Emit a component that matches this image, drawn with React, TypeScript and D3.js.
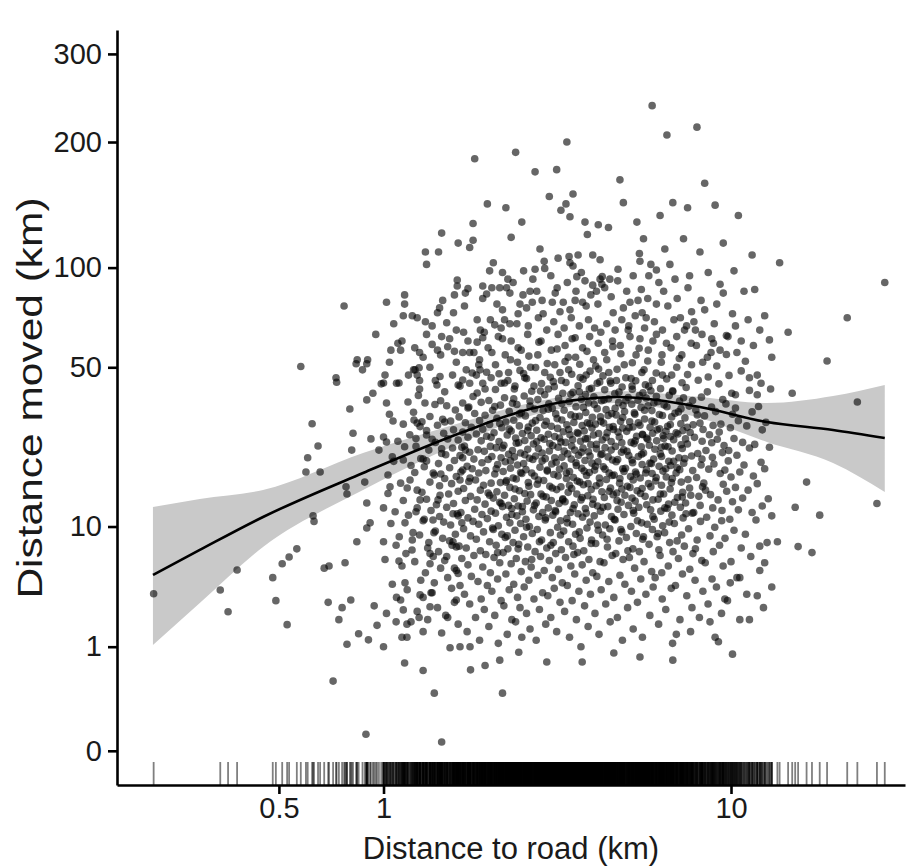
import * as d3 from "d3";
import { useEffect, useRef } from "react";

const W = 911;
const H = 866;
const FONT = "'Liberation Sans', Arial, Helvetica, sans-serif";

// [distance to road (km), distance moved (km)]
const leftTail = [
  [0.218, 3.43], [0.339, 3.69], [0.357, 2.38], [0.379, 5.24], [0.48, 4.6], [0.49, 3.0],
  [0.511, 5.8], [0.528, 1.78], [0.535, 6.45], [0.563, 7.3], [0.578, 50.3], [0.598, 19.2],
  [0.605, 22.3], [0.623, 31.0], [0.627, 11.5], [0.631, 10.7], [0.648, 25.1], [0.657, 19.2],
  [0.675, 5.4], [0.697, 5.6], [0.693, 2.9], [0.716, 0.3], [0.744, 2.0], [0.73, 46.0],
  [0.733, 44.4], [0.76, 2.6], [0.775, 5.9], [0.78, 16.3], [0.785, 15.0], [0.785, 1.07],
  [0.8, 35.4], [0.805, 3.04], [0.81, 24.1], [0.817, 28.4], [0.838, 8.1], [0.848, 1.42],
  [0.834, 51.4], [0.895, 51.4], [0.895, 13.5], [0.883, 17.2], [0.905, 1.21], [0.895, 38.3],
  [0.932, 40.5], [0.92, 26.9], [0.915, 10.5], [0.895, 9.8], [0.94, 2.7], [0.958, 1.75],
  [0.97, 24.1], [0.89, 0.004],
];

const nearOne = [
  [1.0, 44.1], [1.01, 47.0], [0.985, 43.8], [1.0, 8.1], [1.0, 1.0], [1.02, 37.3], [1.02, 26.1],
  [1.0, 12.7], [1.03, 18.6], [1.044, 16.3], [1.06, 22.5], [1.065, 31.8], [1.087, 7.7],
  [1.108, 44.1], [1.12, 3.04], [1.14, 2.48], [1.087, 1.9], [1.108, 6.05], [1.153, 10.5],
  [1.153, 4.2], [1.168, 1.8], [1.168, 1.3], [1.14, 21.8], [1.176, 37.6], [1.192, 17.6],
  [1.208, 7.18], [1.216, 9.2], [1.232, 49.0], [1.266, 49.8], [1.224, 32.1], [1.25, 31.2],
  [1.274, 30.2], [1.24, 25.0], [1.25, 15.7], [1.24, 12.1], [1.274, 14.0], [1.274, 3.36],
  [1.3, 3.2], [1.266, 2.1], [1.3, 1.5], [1.3, 22.0], [1.33, 21.6], [1.33, 27.9], [1.316, 37.3],
  [1.34, 7.4], [1.361, 6.8], [1.361, 5.8], [1.38, 3.5], [1.361, 2.65], [1.388, 10.9],
  [1.397, 9.2], [1.425, 43.4], [1.454, 46.5], [1.406, 36.8], [1.454, 14.8], [1.435, 14.0],
  [1.462, 18.8], [1.47, 1.45], [1.47, 23.3], [1.5, 31.5], [1.52, 6.5], [1.53, 2.1],
  [1.554, 0.97], [1.575, 7.7], [1.62, 7.5], [1.585, 8.1], [1.585, 11.8], [1.64, 11.5],
  [1.68, 10.5], [1.6, 5.4], [1.64, 4.95], [1.62, 3.04], [1.66, 1.0], [1.774, 1.0],
  [1.66, 17.6], [1.69, 19.6], [1.774, 18.0], [1.68, 24.8], [1.72, 24.1], [1.69, 22.3],
  [1.69, 37.3], [1.75, 35.7], [1.81, 39.4], [1.64, 43.4], [1.69, 45.2], [1.8, 47.8], [1.895, 49.0],
];

const upperLeft = [
  [1.83, 184], [2.4, 190], [3.37, 200], [2.73, 172], [3.15, 174], [4.79, 165], [4.9, 146],
  [1.99, 145], [2.25, 142], [3.0, 151], [3.51, 153], [3.35, 145], [3.24, 140], [3.44, 135],
  [3.8, 131], [4.15, 129], [4.44, 127], [3.86, 122], [5.36, 131], [5.6, 119], [1.81, 130],
  [2.5, 131], [2.33, 120], [1.47, 123], [1.64, 116], [1.77, 113], [1.81, 118], [1.32, 110],
  [1.33, 102], [1.44, 110], [2.82, 112], [2.9, 104], [3.18, 106], [3.42, 107], [3.63, 108],
  [3.51, 101], [3.44, 103], [4.0, 108], [4.2, 105], [5.45, 109], [5.47, 104], [4.73, 99],
  [4.48, 93], [4.25, 90], [4.0, 89.5], [3.8, 92], [3.6, 94.5], [2.07, 103], [2.02, 98],
  [2.2, 97], [2.28, 93], [2.26, 88], [2.31, 85], [2.16, 88], [2.53, 98], [2.73, 99],
  [2.91, 99.5], [1.63, 92.5], [1.63, 89], [1.72, 85], [1.75, 87.5], [1.6, 84], [1.93, 89],
  [1.98, 84.5], [1.93, 82], [0.77, 78], [1.02, 80], [1.15, 84], [1.15, 79], [0.95, 64],
  [1.07, 69], [1.14, 73], [1.21, 73], [1.25, 72], [1.32, 70], [1.38, 68], [1.48, 81],
  [1.45, 77], [1.43, 74.5], [1.52, 69.5], [1.59, 74.5], [1.1, 60], [1.12, 57], [1.05, 57],
  [0.84, 53], [0.87, 49], [0.9, 53], [1.22, 49], [1.25, 47], [1.27, 45], [1.3, 54], [1.27, 56],
  [1.38, 59.5], [1.43, 57], [1.47, 63], [1.53, 58.5], [1.6, 56.5], [1.69, 56], [1.77, 56],
  [1.75, 61], [1.86, 60.5], [1.93, 62.5], [1.9, 66], [1.95, 65], [2.03, 71], [2.09, 68.5],
  [2.2, 76], [2.23, 71], [2.31, 69], [2.42, 69], [2.47, 79], [2.58, 77], [2.68, 80],
  [2.76, 86], [2.64, 86], [2.88, 74], [3.06, 80], [3.12, 85], [3.29, 80], [3.44, 76],
  [3.56, 81], [3.74, 80], [3.83, 78], [4.1, 86], [4.2, 93], [4.26, 94.5], [4.58, 74.5],
  [4.9, 77], [5.12, 80], [5.4, 81], [5.55, 74.5], [5.7, 72],
];

const upperMid = [
  [1.62, 66], [1.71, 78], [1.86, 71], [2.05, 88], [2.12, 79], [2.18, 67], [2.36, 91], [2.44, 74],
  [2.52, 84], [2.61, 68], [2.69, 93], [2.79, 72], [2.86, 81], [2.95, 66], [3.03, 95], [3.09, 70],
  [3.16, 88], [3.22, 75], [3.31, 67], [3.38, 91], [3.47, 72], [3.58, 86], [3.66, 68], [3.71, 97],
  [3.89, 71], [3.95, 84], [4.05, 67], [4.14, 79], [4.33, 88], [4.39, 69], [4.52, 83], [4.64, 66],
  [4.72, 92], [4.85, 71], [5.01, 86], [5.08, 68], [5.23, 95], [5.3, 73], [5.52, 87], [5.64, 67],
  [5.76, 82], [5.88, 102], [6.02, 70], [6.2, 91], [6.35, 66], [6.58, 78], [6.9, 93], [7.15, 72],
  [7.52, 88], [7.82, 70], [8.4, 76], [8.95, 69], [9.5, 85], [10.3, 68],
];

const upperBand = [
  [1.04, 52], [1.09, 44], [1.13, 61], [1.18, 47], [1.23, 58], [1.27, 42], [1.33, 64], [1.36, 50],
  [1.41, 45], [1.46, 55], [1.5, 41], [1.55, 62], [1.58, 47], [1.62, 52], [1.66, 43], [1.7, 65],
  [1.73, 49], [1.77, 44], [1.82, 56], [1.85, 47], [1.89, 53], [1.96, 42], [2.0, 58], [2.04, 46],
  [2.1, 51], [2.14, 63], [2.18, 44], [2.24, 55], [2.29, 48], [2.33, 61], [2.38, 42], [2.43, 52],
  [2.49, 57], [2.55, 46], [2.6, 64], [2.65, 50], [2.71, 43], [2.78, 55], [2.84, 61], [2.91, 48],
  [2.98, 42], [3.04, 57], [3.11, 51], [3.18, 64], [3.25, 45], [3.33, 59], [3.41, 49], [3.49, 62],
  [3.57, 54], [3.66, 41], [3.74, 58], [3.83, 47], [3.92, 63], [4.02, 53], [4.12, 44], [4.22, 65],
  [4.33, 56], [4.45, 48], [4.56, 61], [4.68, 45], [4.8, 59], [4.93, 51], [5.06, 66], [5.19, 43],
  [5.33, 55], [5.47, 62], [5.62, 49], [5.78, 57], [5.94, 45], [6.1, 64], [6.3, 52], [6.52, 60],
  [6.75, 47], [6.98, 63], [7.22, 55], [7.45, 68], [7.7, 51], [7.95, 59], [8.25, 64], [8.55, 54],
  [8.9, 60], [9.3, 57], [9.8, 63], [10.4, 56],
];

const upperRight = [
  [5.93, 238], [6.54, 207], [7.98, 215], [8.4, 162], [7.5, 142], [6.8, 146], [6.25, 136],
  [9.0, 144], [10.5, 136], [9.5, 116], [11.5, 108], [13.8, 103], [8.14, 110], [7.3, 119],
  [6.45, 112], [6.67, 102], [6.1, 98.5], [5.8, 95], [7.6, 95], [8.6, 97], [9.3, 90], [10.2, 98],
  [10.9, 86], [11.7, 87], [12.5, 73], [12.1, 66], [11.2, 71], [10.1, 74], [9.1, 79], [8.2, 81],
  [7.7, 75], [7.0, 82], [6.4, 86], [6.1, 79], [6.85, 71], [7.35, 66], [7.9, 66], [8.8, 62],
  [9.7, 63.5], [10.7, 61], [11.6, 59], [12.9, 61.5], [14.6, 65], [13.1, 54],
];

const rightTail = [
  [12.2, 44], [11.9, 47], [11.3, 46], [11.9, 40], [15.0, 40.5], [18.9, 52.5], [21.6, 72],
  [27.7, 91], [23.1, 37.6], [16.5, 17.2], [15.3, 12.8], [18.0, 11.6], [26.3, 13.4],
  [15.6, 7.55], [17.1, 6.9], [13.1, 3.9], [11.9, 3.3], [11.3, 2.0], [9.2, 1.15], [9.6, 3.1],
  [10.6, 4.6], [12.5, 5.9], [12.1, 7.6], [13.6, 8.1],
];

const bottomTail = [
  [1.47, 0.0006], [2.2, 0.17], [1.96, 0.55], [2.16, 0.66], [2.45, 0.85], [2.95, 0.62],
  [3.73, 0.62], [4.6, 0.83], [5.47, 0.73], [6.8, 0.66], [1.15, 0.6], [1.3, 0.46], [1.4, 0.17],
  [1.78, 0.47], [10.1, 0.8],
];

const coreA = [
  [1.0, 27.4], [1.01, 6.2], [1.02, 2.3], [1.03, 15.1], [1.04, 33.8], [1.05, 10.4], [1.06, 4.1], [1.07, 21.5],
  [1.08, 12.1], [1.09, 3.2], [1.1, 26.3], [1.11, 8.7], [1.12, 17.0], [1.13, 1.3], [1.13, 5.6], [1.14, 30.9], [1.14, 13.9],
  [1.15, 24.9], [1.16, 6.8], [1.17, 16.1], [1.17, 3.7], [1.18, 11.6], [1.19, 28.0], [1.2, 1.9], [1.2, 20.6], [1.21, 8.3], [1.22, 34.4],
  [1.23, 6.0], [1.23, 19.1], [1.24, 27.0], [1.25, 2.4], [1.25, 12.7], [1.26, 39.8], [1.27, 8.9], [1.28, 22.1], [1.28, 4.4], [1.29, 15.3], [1.29, 31.6], [1.3, 10.8],
  [1.31, 20.3], [1.31, 11.0], [1.32, 5.0], [1.33, 29.1], [1.33, 14.1], [1.34, 2.0], [1.35, 24.1], [1.35, 8.0], [1.36, 17.2], [1.36, 33.1], [1.37, 3.5], [1.37, 12.3], [1.38, 26.8], [1.39, 6.5], [1.39, 19.0],
  [1.4, 4.2], [1.4, 18.6], [1.41, 26.0], [1.41, 9.4], [1.42, 13.2], [1.43, 2.6], [1.43, 30.6], [1.44, 7.0], [1.44, 21.0], [1.45, 16.5], [1.45, 11.4], [1.46, 38.0], [1.46, 5.4], [1.47, 24.4], [1.48, 8.5], [1.48, 32.3],
  [1.49, 28.4], [1.49, 10.6], [1.5, 6.1], [1.5, 17.9], [1.51, 23.0], [1.51, 2.2], [1.52, 36.4], [1.52, 12.8], [1.53, 4.6], [1.53, 26.9], [1.54, 15.0], [1.55, 8.2], [1.55, 20.1], [1.56, 31.8], [1.56, 10.2], [1.57, 3.8], [1.57, 16.9], [1.58, 24.6],
  [1.59, 13.4], [1.59, 29.3], [1.6, 2.9], [1.6, 21.7], [1.61, 9.0], [1.61, 35.1], [1.62, 5.2], [1.62, 18.3], [1.63, 11.8], [1.64, 26.6], [1.64, 1.8], [1.64, 15.5], [1.65, 7.6], [1.65, 33.0], [1.66, 22.8], [1.66, 4.0], [1.67, 12.0], [1.67, 19.2], [1.68, 6.3], [1.69, 28.7],
  [1.7, 16.0], [1.7, 9.7], [1.71, 25.1], [1.71, 3.4], [1.72, 31.3], [1.72, 13.9], [1.73, 7.4], [1.74, 20.4], [1.74, 1.5], [1.75, 11.2], [1.75, 27.3], [1.75, 5.7], [1.76, 17.3], [1.76, 36.0], [1.77, 2.8], [1.77, 23.6], [1.78, 8.8], [1.78, 14.6], [1.79, 30.0], [1.79, 4.7], [1.8, 19.9], [1.81, 10.7],
  [1.82, 6.6], [1.82, 22.0], [1.83, 12.5], [1.83, 34.0], [1.84, 2.1], [1.84, 17.6], [1.85, 28.2], [1.85, 8.4], [1.86, 40.6], [1.86, 14.0], [1.87, 4.3], [1.87, 24.2], [1.88, 10.3], [1.88, 51.0], [1.88, 19.0], [1.89, 1.2], [1.89, 31.9], [1.9, 7.1], [1.9, 15.7], [1.91, 26.4], [1.91, 3.1], [1.91, 37.5], [1.92, 11.7], [1.92, 21.2], [1.93, 5.5], [1.93, 29.5], [1.93, 44.0],
];

const coreB = [
  [1.94, 16.6], [1.94, 9.3], [1.95, 23.8], [1.95, 2.5], [1.96, 33.5], [1.96, 13.3], [1.97, 6.7], [1.97, 19.5], [1.98, 27.6], [1.98, 48.1], [1.99, 4.0], [1.99, 11.1], [2.0, 21.9], [2.0, 15.2], [2.01, 38.1], [2.01, 1.7], [2.02, 8.1], [2.02, 30.8], [2.03, 25.0], [2.03, 5.0], [2.04, 17.0], [2.04, 12.2], [2.05, 56.0], [2.05, 3.6], [2.05, 22.6], [2.06, 9.8], [2.06, 35.0], [2.07, 14.3],
  [2.08, 28.5], [2.08, 6.4], [2.09, 18.8], [2.09, 2.2], [2.1, 41.8], [2.1, 11.9], [2.11, 24.7], [2.11, 7.7], [2.12, 32.6], [2.12, 15.4], [2.13, 4.5], [2.13, 20.8], [2.14, 1.1], [2.14, 10.1], [2.15, 26.2], [2.15, 47.5], [2.16, 13.6], [2.16, 5.9], [2.17, 36.6], [2.17, 17.1], [2.18, 3.0], [2.18, 22.3], [2.19, 9.0], [2.19, 29.9], [2.2, 12.9], [2.2, 62.0], [2.21, 19.3], [2.21, 6.9],
  [2.22, 25.3], [2.22, 2.7], [2.23, 14.8], [2.23, 39.0], [2.24, 8.6], [2.24, 21.4], [2.25, 31.5], [2.25, 4.9], [2.26, 11.3], [2.26, 17.5], [2.27, 1.4], [2.27, 27.9], [2.28, 45.0], [2.28, 7.3], [2.29, 13.1], [2.29, 23.1], [2.3, 3.7], [2.3, 34.7], [2.31, 16.2], [2.31, 10.5], [2.32, 53.0], [2.32, 20.0], [2.33, 5.8], [2.33, 29.0], [2.34, 2.0], [2.34, 12.6], [2.35, 37.2], [2.35, 24.0], [2.36, 8.0], [2.36, 18.0],
  [2.37, 32.0], [2.37, 4.1], [2.38, 14.2], [2.38, 22.5], [2.39, 9.5], [2.39, 43.0], [2.4, 1.9], [2.4, 27.1], [2.41, 6.3], [2.41, 17.8], [2.42, 11.5], [2.42, 36.8], [2.43, 3.2], [2.43, 20.7], [2.44, 58.0], [2.44, 13.0], [2.45, 25.9], [2.45, 7.8], [2.46, 30.4], [2.46, 15.6], [2.47, 2.6], [2.47, 48.8], [2.48, 10.4], [2.48, 23.4], [2.49, 5.1], [2.49, 34.2], [2.5, 18.9], [2.5, 1.3], [2.51, 12.1], [2.51, 28.3],
  [2.53, 8.7], [2.53, 21.0], [2.54, 39.6], [2.54, 3.9], [2.55, 15.1], [2.55, 26.5], [2.56, 6.0], [2.56, 33.3], [2.57, 11.0], [2.57, 19.7], [2.58, 2.3], [2.58, 45.7], [2.59, 13.8], [2.6, 24.3], [2.6, 7.5], [2.61, 30.1], [2.61, 17.1], [2.62, 4.4], [2.62, 54.5], [2.63, 10.0], [2.63, 22.2], [2.64, 1.6], [2.64, 36.3], [2.65, 14.9], [2.66, 27.7], [2.66, 5.5], [2.67, 41.2], [2.67, 19.0], [2.68, 9.1], [2.68, 31.2],
  [2.7, 12.4], [2.7, 25.6], [2.71, 3.1], [2.72, 18.4], [2.72, 35.4], [2.73, 7.0], [2.74, 22.7], [2.74, 49.9], [2.75, 1.2], [2.75, 13.5], [2.76, 29.2], [2.77, 9.6], [2.77, 16.8], [2.78, 4.8], [2.78, 38.4], [2.79, 24.5], [2.8, 11.4], [2.8, 60.5], [2.81, 2.5], [2.82, 20.2], [2.82, 32.8], [2.83, 6.5], [2.84, 15.0], [2.84, 27.2], [2.85, 43.9], [2.85, 8.3], [2.86, 21.6], [2.87, 3.5], [2.87, 12.0], [2.88, 34.9],
  [2.89, 17.5], [2.9, 26.8], [2.9, 5.2], [2.91, 40.0], [2.92, 10.9], [2.92, 22.1], [2.93, 1.8], [2.94, 31.7], [2.94, 14.5], [2.95, 7.4], [2.96, 51.5], [2.96, 19.4], [2.97, 3.3], [2.98, 28.1], [2.98, 12.7], [2.99, 37.0], [3.0, 6.1], [3.0, 23.9], [3.01, 16.4], [3.02, 9.2], [3.02, 46.2], [3.03, 2.1], [3.04, 30.3], [3.04, 13.9], [3.05, 20.9], [3.06, 4.6], [3.06, 35.6], [3.07, 11.6], [3.07, 25.2], [3.08, 8.0],
  [3.09, 18.7], [3.1, 42.8], [3.1, 3.8], [3.11, 27.5], [3.12, 12.3], [3.13, 33.9], [3.13, 6.8], [3.14, 21.3], [3.15, 1.5], [3.15, 15.8], [3.16, 57.5], [3.17, 9.9], [3.17, 29.7], [3.18, 24.8], [3.19, 5.3], [3.19, 38.8], [3.2, 13.4], [3.21, 19.8], [3.22, 2.9], [3.22, 48.0], [3.23, 10.8], [3.24, 26.1], [3.24, 16.3], [3.25, 7.2], [3.26, 32.1], [3.26, 22.4], [3.27, 4.2], [3.28, 14.2], [3.28, 40.5], [3.29, 28.8],
  [3.3, 9.4], [3.31, 20.5], [3.31, 35.0], [3.32, 2.4], [3.33, 13.7], [3.34, 26.0], [3.34, 6.4], [3.35, 44.3], [3.36, 17.9], [3.37, 11.1], [3.37, 30.7], [3.38, 4.0], [3.39, 23.2], [3.4, 54.0], [3.4, 15.3], [3.41, 8.1], [3.42, 37.8], [3.43, 1.3], [3.43, 19.3], [3.44, 28.0], [3.45, 12.0], [3.46, 5.6], [3.46, 33.6], [3.47, 22.0], [3.48, 47.3], [3.48, 16.0], [3.49, 3.0], [3.5, 10.3], [3.5, 26.7], [3.51, 40.8], [3.51, 7.6],
  [3.52, 18.1], [3.53, 31.4], [3.54, 13.2], [3.55, 4.9], [3.55, 24.1], [3.56, 62.5], [3.57, 9.0], [3.58, 36.1], [3.59, 20.6], [3.59, 2.0], [3.6, 15.0], [3.61, 28.6], [3.62, 6.9], [3.63, 43.1], [3.63, 11.8], [3.64, 22.9], [3.65, 3.6], [3.66, 33.2], [3.67, 17.2], [3.67, 51.2], [3.68, 8.5], [3.69, 26.3], [3.7, 14.0], [3.7, 1.0], [3.71, 38.5], [3.72, 20.0], [3.73, 5.7], [3.73, 30.5], [3.74, 11.3], [3.75, 24.6], [3.75, 45.5],
];

const coreC = [
  [3.76, 16.7], [3.77, 7.1], [3.78, 29.0], [3.79, 2.7], [3.8, 21.7], [3.81, 40.1], [3.81, 12.6], [3.82, 34.3], [3.83, 4.4], [3.84, 18.5], [3.85, 56.5], [3.85, 9.8], [3.86, 27.0], [3.87, 14.7], [3.88, 1.7], [3.89, 23.7], [3.89, 37.3], [3.9, 6.2], [3.91, 19.1], [3.92, 31.0], [3.93, 10.6], [3.93, 48.5], [3.94, 3.4], [3.95, 25.4], [3.96, 15.8], [3.97, 42.2], [3.97, 8.3], [3.98, 21.1], [3.99, 32.9], [4.0, 5.0], [4.0, 13.3],
  [4.02, 27.9], [4.03, 39.3], [4.04, 11.5], [4.05, 19.6], [4.06, 2.3], [4.07, 30.9], [4.08, 7.9], [4.08, 50.5], [4.09, 16.5], [4.1, 24.4], [4.11, 4.7], [4.12, 35.5], [4.13, 13.0], [4.14, 21.4], [4.15, 60.0], [4.15, 9.5], [4.16, 28.3], [4.17, 1.4], [4.18, 18.0], [4.19, 44.5], [4.2, 6.0], [4.21, 33.0], [4.21, 12.2], [4.22, 23.0], [4.23, 3.7], [4.24, 38.0], [4.25, 15.4], [4.26, 26.6], [4.27, 8.9], [4.28, 46.7],
  [4.29, 20.3], [4.3, 31.2], [4.31, 5.9], [4.32, 14.4], [4.33, 41.7], [4.34, 24.7], [4.35, 10.2], [4.36, 2.8], [4.37, 35.2], [4.38, 17.7], [4.39, 53.0], [4.4, 28.5], [4.41, 7.5], [4.42, 12.9], [4.43, 22.5], [4.44, 38.7], [4.45, 4.3], [4.46, 19.0], [4.47, 30.0], [4.48, 9.7], [4.49, 1.9], [4.5, 16.1], [4.51, 44.0], [4.52, 26.2], [4.53, 11.4], [4.54, 34.0], [4.55, 6.6], [4.56, 21.8], [4.57, 58.5], [4.58, 14.9],
  [4.59, 29.4], [4.6, 3.2], [4.61, 18.6], [4.63, 40.4], [4.64, 10.9], [4.65, 25.0], [4.66, 6.8], [4.67, 33.6], [4.69, 15.2], [4.7, 49.2], [4.71, 2.1], [4.72, 21.9], [4.73, 12.5], [4.75, 37.4], [4.76, 8.2], [4.77, 27.4], [4.78, 17.0], [4.79, 4.8], [4.81, 31.7], [4.82, 55.5], [4.83, 13.6], [4.84, 23.6], [4.85, 9.3], [4.86, 42.7], [4.87, 1.2], [4.88, 19.9], [4.88, 29.8], [4.89, 6.2], [4.89, 36.5], [4.85, 15.9],
  [4.91, 24.2], [4.92, 11.7], [4.94, 34.6], [4.95, 4.1], [4.97, 20.0], [4.98, 46.0], [5.0, 8.6], [5.01, 28.9], [5.03, 16.4], [5.04, 2.6], [5.06, 39.1], [5.07, 13.1], [5.08, 22.8], [5.1, 6.4], [5.11, 31.6], [5.12, 63.0], [5.14, 18.3], [5.15, 10.0], [5.16, 26.0], [5.17, 3.6], [5.18, 36.9], [5.19, 14.3], [5.2, 51.8], [5.21, 21.2], [5.22, 7.3], [5.22, 30.1], [5.23, 1.6], [5.23, 17.6], [5.2, 41.9],
  [5.25, 11.9], [5.26, 25.7], [5.28, 5.4], [5.29, 33.8], [5.31, 19.2], [5.32, 44.9], [5.34, 9.1], [5.35, 27.6], [5.37, 15.6], [5.38, 2.9], [5.4, 38.2], [5.41, 22.6], [5.43, 12.8], [5.44, 57.8], [5.45, 7.0], [5.47, 30.6], [5.48, 18.0], [5.5, 4.5], [5.51, 35.9], [5.52, 24.9], [5.53, 10.5], [5.54, 48.0], [5.55, 16.0], [5.56, 1.3], [5.57, 28.0], [5.57, 8.4], [5.58, 40.7], [5.55, 20.8], [5.3, 13.8],
  [5.6, 23.4], [5.62, 6.0], [5.64, 32.4], [5.66, 14.6], [5.67, 43.5], [5.69, 3.4], [5.71, 19.7], [5.72, 27.1], [5.74, 10.3], [5.76, 52.5], [5.77, 36.4], [5.79, 16.9], [5.81, 7.8], [5.82, 25.3], [5.84, 2.2], [5.85, 30.0], [5.87, 12.4], [5.88, 41.4], [5.9, 21.0], [5.91, 5.1], [5.92, 34.9], [5.93, 18.9], [5.94, 9.6], [5.95, 28.4], [5.96, 61.0], [5.96, 14.0], [5.97, 3.9], [5.7, 38.9],
  [5.99, 22.0], [6.01, 11.0], [6.03, 31.5], [6.05, 4.6], [6.07, 17.4], [6.09, 47.8], [6.11, 26.4], [6.13, 8.7], [6.15, 37.7], [6.17, 14.1], [6.19, 1.8], [6.21, 20.4], [6.23, 29.6], [6.25, 6.6], [6.27, 42.1], [6.28, 12.2], [6.3, 24.8], [6.31, 16.6], [6.33, 55.0], [6.34, 3.1], [6.35, 33.4], [6.36, 10.1], [6.37, 19.4], [6.38, 27.8], [6.2, 7.2], [6.1, 39.5], [6.26, 23.2], [6.32, 5.0],
  [6.4, 15.0], [6.42, 36.7], [6.44, 9.2], [6.46, 25.1], [6.49, 2.5], [6.51, 18.2], [6.53, 45.6], [6.55, 12.6], [6.57, 30.3], [6.6, 5.6], [6.62, 21.5], [6.64, 39.8], [6.66, 8.0], [6.68, 15.9], [6.7, 27.5], [6.72, 58.0], [6.73, 3.8], [6.75, 33.0], [6.76, 11.6], [6.77, 23.9], [6.78, 17.9], [6.79, 1.1], [6.8, 41.1], [6.81, 7.0], [6.5, 28.9], [6.61, 13.3], [6.7, 20.6],
  [6.84, 26.7], [6.87, 10.4], [6.9, 34.1], [6.92, 4.0], [6.95, 19.0], [6.98, 50.0], [7.01, 14.4], [7.03, 28.2], [7.06, 6.3], [7.08, 22.3], [7.11, 37.9], [7.13, 2.0], [7.15, 12.8], [7.17, 31.0], [7.19, 17.2], [7.21, 8.9], [7.23, 44.2], [7.24, 24.5], [7.25, 4.9], [7.26, 15.3], [7.27, 29.1], [7.28, 11.2], [7.0, 20.1], [7.1, 53.5], [7.18, 35.5], [6.96, 1.4],
];

const coreD = [
  [7.31, 21.1], [7.34, 7.6], [7.37, 32.7], [7.4, 13.5], [7.43, 42.5], [7.46, 3.3], [7.49, 25.6], [7.52, 17.7], [7.55, 9.7], [7.58, 36.3], [7.61, 5.3], [7.63, 28.6], [7.66, 14.8], [7.68, 60.0], [7.7, 22.7], [7.72, 2.6], [7.74, 11.9], [7.75, 38.1], [7.76, 19.5], [7.77, 6.8], [7.78, 30.7], [7.5, 47.2], [7.6, 16.1], [7.4, 26.9], [7.65, 1.5],
  [7.81, 12.0], [7.85, 27.3], [7.88, 4.4], [7.92, 35.1], [7.96, 18.1], [7.99, 8.3], [8.02, 23.3], [8.05, 45.1], [8.08, 14.6], [8.11, 2.1], [8.14, 31.2], [8.17, 10.7], [8.2, 20.7], [8.22, 39.2], [8.24, 6.1], [8.26, 26.3], [8.28, 16.3], [8.29, 52.0], [8.3, 3.6], [8.31, 29.4], [8.0, 33.6], [8.15, 13.1], [8.25, 22.0], [7.9, 7.3],
  [8.35, 17.0], [8.39, 33.3], [8.43, 5.9], [8.47, 24.0], [8.51, 11.3], [8.55, 41.0], [8.59, 2.8], [8.63, 19.8], [8.67, 28.0], [8.7, 8.8], [8.73, 14.9], [8.76, 56.0], [8.79, 36.0], [8.82, 4.5], [8.84, 22.4], [8.86, 12.7], [8.88, 30.5], [8.89, 7.0], [8.6, 46.3], [8.45, 15.7], [8.7, 1.9], [8.8, 25.9],
  [8.93, 20.9], [8.98, 9.9], [9.03, 34.6], [9.08, 3.9], [9.13, 26.8], [9.18, 14.0], [9.23, 43.8], [9.27, 7.7], [9.31, 18.9], [9.35, 30.9], [9.39, 2.3], [9.42, 12.3], [9.45, 23.5], [9.47, 38.4], [9.49, 5.6], [9.5, 16.8], [9.1, 50.5], [9.25, 28.7], [9.4, 10.8], [9.0, 1.3],
  [9.55, 25.2], [9.61, 8.5], [9.67, 37.0], [9.72, 15.5], [9.77, 3.0], [9.82, 21.6], [9.87, 46.9], [9.92, 11.0], [9.96, 29.9], [10.0, 6.0], [10.0, 18.2], [10.1, 33.8], [10.1, 13.7], [9.7, 55.2], [9.85, 24.0], [9.95, 4.2], [9.6, 19.6], [10.05, 40.5],
  [10.2, 9.5], [10.2, 27.0], [10.3, 16.2], [10.3, 40.0], [10.4, 4.6], [10.4, 22.9], [10.5, 12.4], [10.5, 31.9], [10.6, 2.0], [10.6, 19.2], [10.7, 48.6], [10.7, 7.4], [10.8, 26.0], [10.8, 14.3], [10.3, 35.7],
  [10.9, 20.7], [11.0, 9.0], [11.1, 30.4], [11.1, 3.4], [11.2, 15.7], [11.3, 41.5], [11.3, 24.6], [11.4, 6.5], [11.5, 12.0], [11.5, 34.5], [11.6, 18.4], [11.0, 52.4],
  [11.7, 25.5], [11.8, 10.9], [11.9, 16.9], [12.0, 36.2], [12.1, 5.2], [12.2, 21.3], [12.3, 29.3], [12.3, 13.0], [12.4, 2.6],
  [12.5, 19.9], [12.6, 31.4], [12.7, 8.0], [12.8, 14.2], [12.9, 24.8], [13.0, 42.0], [13.1, 11.5],
];

// the darkest part of the cloud
const coreExtra = [
  [2.02, 14.8], [2.04, 27.3], [2.07, 9.6], [2.09, 36.2], [2.11, 19.9], [2.13, 6.9], [2.16, 31.1], [2.18, 13.4],
  [2.2, 24.6], [2.23, 44.1], [2.25, 17.2], [2.27, 8.8], [2.3, 29.5], [2.32, 21.6], [2.34, 11.7], [2.37, 38.7],
  [2.39, 15.9], [2.41, 25.8], [2.44, 7.3], [2.46, 33.9], [2.48, 19.1], [2.51, 12.9], [2.53, 47.6], [2.55, 23.0],
  [2.58, 9.9], [2.6, 29.1], [2.62, 16.4], [2.64, 37.9], [2.67, 6.2], [2.69, 21.9], [2.72, 13.1], [2.74, 31.9],
  [2.76, 26.2], [2.79, 17.6], [2.81, 8.1], [2.83, 41.3], [2.86, 23.4], [2.88, 14.6], [2.91, 30.6], [2.93, 11.2],
  [2.96, 19.6], [2.98, 35.3], [3.01, 25.7], [3.03, 7.7], [3.06, 16.1], [3.08, 44.6], [3.11, 22.3], [3.13, 12.1],
  [3.16, 32.5], [3.18, 18.4], [3.21, 27.1], [3.23, 8.9], [3.26, 37.1], [3.28, 14.0], [3.31, 23.9], [3.33, 52.3],
  [3.36, 19.0], [3.38, 10.5], [3.41, 29.4], [3.43, 16.6], [3.46, 40.2], [3.48, 25.1], [3.51, 12.6], [3.53, 6.7],
  [3.56, 33.1], [3.58, 21.2], [3.61, 17.4], [3.63, 28.3], [3.66, 9.3], [3.68, 46.1], [3.71, 23.6], [3.73, 14.4],
  [3.76, 35.9], [3.78, 19.4], [3.81, 26.9], [3.83, 11.9], [3.86, 31.3], [3.88, 16.9], [3.91, 42.0], [3.93, 22.7],
  [3.96, 7.9], [3.98, 29.8], [4.01, 14.1], [4.04, 36.8], [4.07, 20.4], [4.1, 25.5], [4.13, 10.2], [4.16, 49.3],
  [4.19, 17.0], [4.22, 31.7], [4.25, 23.2], [4.28, 12.8], [4.31, 38.3], [4.34, 19.8], [4.37, 27.3], [4.4, 8.4],
  [4.43, 33.4], [4.46, 15.5], [4.49, 44.8], [4.52, 24.1], [4.55, 18.5], [4.58, 30.2], [4.61, 11.0], [4.64, 35.6],
  [4.67, 21.4], [4.7, 13.9], [4.73, 28.7], [4.76, 40.9], [4.79, 17.9], [4.82, 9.6], [4.85, 25.9], [4.88, 32.8],
  [4.92, 19.3], [4.95, 14.8], [4.98, 38.0], [5.02, 23.8], [5.05, 7.1], [5.09, 29.9], [5.12, 16.2], [5.16, 45.7],
  [5.19, 21.8], [5.23, 12.3], [5.27, 34.2], [5.3, 26.4], [5.34, 18.8], [5.38, 10.8], [5.41, 31.3], [5.45, 39.7],
  [5.49, 15.1], [5.53, 23.1], [5.56, 28.1], [5.6, 8.7], [5.64, 35.0], [5.68, 19.0], [5.72, 13.2], [5.76, 26.8],
  [5.8, 42.9], [5.84, 21.1], [5.88, 16.3], [5.92, 31.8], [5.96, 11.4], [6.0, 37.3], [6.04, 24.3], [6.09, 18.1],
  [6.13, 29.3], [6.17, 9.1], [6.22, 33.7], [6.26, 15.0], [6.31, 22.6], [6.35, 47.0], [6.4, 27.0], [6.45, 12.7],
  [6.49, 19.9], [6.54, 36.1], [6.59, 24.9], [6.64, 10.6], [6.69, 30.8], [6.74, 17.1], [6.79, 41.4], [6.84, 21.5],
  [6.89, 13.6], [6.95, 28.5], [7.0, 8.2], [7.06, 34.5], [7.12, 19.7], [7.18, 25.4], [7.24, 14.5], [7.3, 39.0],
  [7.36, 22.1], [7.42, 11.8], [7.48, 30.0],
];

// loess fit with its 95% band
const fitRoad = [0.217, 0.296, 0.45, 0.873, 1.694, 2.64, 4.7, 8.14, 12.69, 19.66, 27.7];
const fitMid = [4.82, 7.18, 11.33, 19.0, 28.72, 35.4, 39.26, 36.02, 31.51, 29.26, 27.13];
const fitHigh = [12.85, 14.15, 15.72, 23.4, 31.51, 37.29, 41.29, 39.26, 37.29, 39.59, 43.39];
const fitLow = [1.05, 2.86, 7.5, 15.72, 26.1, 33.27, 37.29, 32.67, 26.1, 21.13, 15.37];

const yTicks = [0, 1, 10, 50, 100, 200, 300];
const xTicks = [0.5, 1, 10];

const points = [
  ...leftTail, ...nearOne, ...upperLeft, ...upperMid, ...upperBand, ...upperRight,
  ...rightTail, ...bottomTail, ...coreA, ...coreB, ...coreC, ...coreD, ...coreExtra,
];

const App = () => {
  const svgRef = useRef(null);

  useEffect(() => {
    const svg = d3.select(svgRef.current);
    svg.selectAll("*").remove();

    const x = d3.scaleLog().domain([0.17101, 31.675]).range([117, 905]);
    // cube-root scale for distance moved
    const y = d3.scalePow().exponent(1 / 3).domain([-0.03546, 331.96]).range([785, 30]);

    const fit = fitRoad.map((r, i) => ({ r, mid: fitMid[i], lo: fitLow[i], hi: fitHigh[i] }));

    const band = d3
      .area()
      .x((d) => x(d.r))
      .y0((d) => y(d.lo))
      .y1((d) => y(d.hi))
      .curve(d3.curveMonotoneX);

    const line = d3
      .line()
      .x((d) => x(d.r))
      .y((d) => y(d.mid))
      .curve(d3.curveMonotoneX);

    svg.append("path").datum(fit).attr("d", band).attr("fill", "#c9c9c9");

    svg
      .append("g")
      .selectAll("circle")
      .data(points)
      .join("circle")
      .attr("cx", (d) => x(d[0]))
      .attr("cy", (d) => y(d[1]))
      .attr("r", 3.8)
      .attr("fill", "#000")
      .attr("fill-opacity", 0.6);

    // rug along the x axis
    svg
      .append("g")
      .selectAll("line")
      .data(points)
      .join("line")
      .attr("x1", (d) => x(d[0]))
      .attr("x2", (d) => x(d[0]))
      .attr("y1", 762)
      .attr("y2", 785)
      .attr("stroke", "#000")
      .attr("stroke-opacity", 0.5)
      .attr("stroke-width", 1.8);

    svg
      .append("path")
      .datum(fit)
      .attr("d", line)
      .attr("fill", "none")
      .attr("stroke", "#000")
      .attr("stroke-width", 2.6);

    const yAxis = svg
      .append("g")
      .attr("transform", "translate(117,0)")
      .call(d3.axisLeft(y).tickValues(yTicks).tickFormat(d3.format("d")).tickSize(9).tickSizeOuter(0).tickPadding(6));

    const xAxis = svg
      .append("g")
      .attr("transform", "translate(0,785)")
      .call(d3.axisBottom(x).tickValues(xTicks).tickFormat((d) => String(d)).tickSize(9).tickSizeOuter(0).tickPadding(3));

    [yAxis, xAxis].forEach((g) => {
      g.select(".domain").attr("stroke", "#000").attr("stroke-width", 2.6);
      g.selectAll(".tick line").attr("stroke", "#000").attr("stroke-width", 2.6);
      g.selectAll(".tick text").attr("fill", "#1a1a1a").attr("font-size", 29).attr("font-family", FONT);
    });

    svg
      .append("text")
      .attr("x", 511)
      .attr("y", 859)
      .attr("text-anchor", "middle")
      .attr("font-size", 31)
      .attr("font-family", FONT)
      .attr("fill", "#1a1a1a")
      .text("Distance to road (km)");

    svg
      .append("text")
      .attr("transform", "translate(42,398) rotate(-90) scale(1.18,1)")
      .attr("text-anchor", "middle")
      .attr("font-size", 36)
      .attr("font-family", FONT)
      .attr("fill", "#1a1a1a")
      .text("Distance moved (km)");
  }, []);

  return (
    <svg
      ref={svgRef}
      width={W}
      height={H}
      style={{ position: "absolute", left: 0, top: 0, background: "#fff" }}
    />
  );
};

export default App;
